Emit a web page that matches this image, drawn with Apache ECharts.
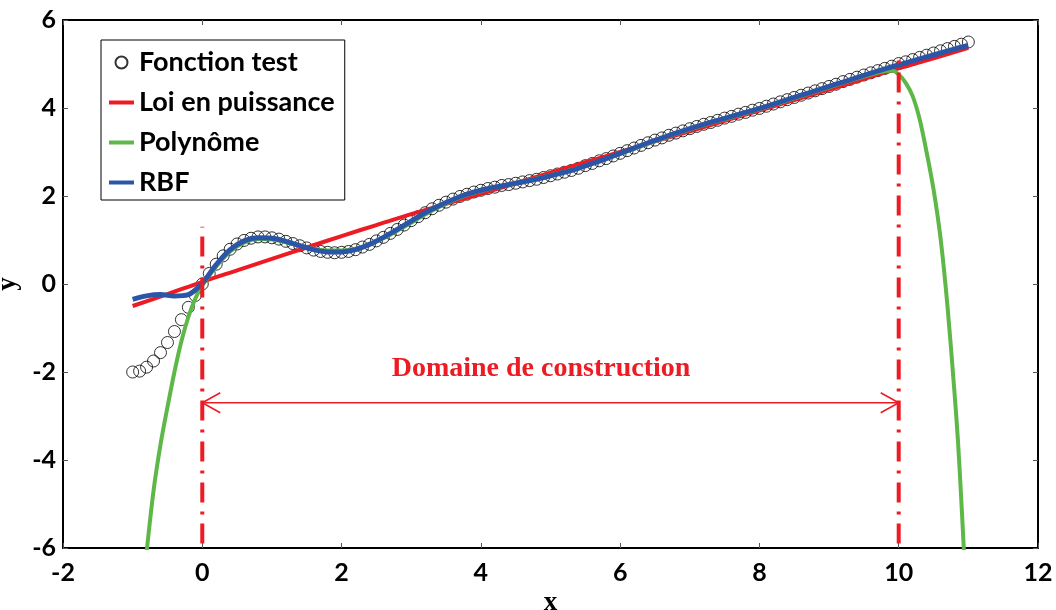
<!DOCTYPE html>
<html lang="fr">
<head>
  <meta charset="UTF-8">
  <title>Domaine de construction</title>
  <style type="text/css">
    html, body { margin: 0; padding: 0; background: #fff; }
    #chart { width: 1056px; height: 610px; }
  </style>
</head>
<body>
  <div id="chart"></div>
  <script src="https://cdn.jsdelivr.net/npm/echarts@6/dist/echarts.min.js"></script>
  <script>
    // sampling grid of the test function (step 0.1 from -1 to 11)
    const testX = Array.from({ length: 121 }, (_, i) => +(-1 + i * 0.1).toFixed(1))
    const testY = [
      -2.00, -1.98, -1.89, -1.75, -1.56, -1.33, -1.08, -0.81, -0.53, -0.26,
      0.00, 0.24, 0.45, 0.64, 0.79, 0.91, 0.99, 1.04, 1.07, 1.07,
      1.05, 1.02, 0.97, 0.92, 0.87, 0.82, 0.77, 0.74, 0.72, 0.71,
      0.72, 0.74, 0.78, 0.84, 0.90, 0.98, 1.06, 1.15, 1.24, 1.34,
      1.44, 1.53, 1.62, 1.71, 1.79, 1.86, 1.93, 1.99, 2.04, 2.09,
      2.13, 2.17, 2.20, 2.24, 2.26, 2.29, 2.32, 2.35, 2.38, 2.42,
      2.46, 2.50, 2.54, 2.58, 2.63, 2.69, 2.74, 2.80, 2.85, 2.91,
      2.97, 3.03, 3.09, 3.15, 3.21, 3.27, 3.32, 3.38, 3.43, 3.48,
      3.53, 3.58, 3.63, 3.67, 3.72, 3.77, 3.81, 3.86, 3.90, 3.95,
      3.99, 4.04, 4.09, 4.14, 4.19, 4.24, 4.29, 4.34, 4.39, 4.44,
      4.49, 4.54, 4.60, 4.65, 4.70, 4.75, 4.80, 4.85, 4.90, 4.95,
      5.01, 5.05, 5.10, 5.15, 5.20, 5.25, 5.30, 5.35, 5.40, 5.45, 5.50
    ]

    // loi en puissance, read every 0.5
    const powerX = [-1, -0.5, 0, 0.5, 1, 1.5, 2, 2.5, 3, 3.5, 4, 4.5, 5, 5.5, 6, 6.5, 7, 7.5, 8, 8.5, 9, 9.5, 10, 10.5, 11]
    const powerY = [-0.50, -0.23, 0.05, 0.31, 0.57, 0.83, 1.09, 1.34, 1.59, 1.82, 2.05, 2.29, 2.53, 2.77, 3.00, 3.24, 3.47, 3.71, 3.94, 4.18, 4.42, 4.66, 4.90, 5.13, 5.37]

    // polynome
    const polyX = [
      -0.8, -0.7, -0.6, -0.5, -0.4, -0.3, -0.2, -0.1,
      0, 0.2, 0.4, 0.6, 0.8, 1.0, 1.2, 1.4, 1.6, 1.8,
      2.0, 2.2, 2.4, 2.6, 2.8, 3.0, 3.2, 3.4, 3.6, 3.8,
      4.0, 4.2, 4.4, 4.6, 4.8, 5.0, 5.2, 5.4, 5.6, 5.8,
      6.0, 6.2, 6.4, 6.6, 6.8, 7.0, 7.2, 7.4, 7.6, 7.8,
      8.0, 8.2, 8.4, 8.6, 8.8, 9.0, 9.2, 9.4, 9.6, 9.8,
      9.9, 10.0, 10.1, 10.2, 10.3, 10.4, 10.5, 10.6, 10.7, 10.8, 10.85, 10.9, 10.95
    ]
    const polyY = [
      -6.1, -4.7, -3.65, -2.8, -2.0, -1.3, -0.75, -0.33,
      -0.03, 0.40, 0.74, 0.94, 1.02, 1.01, 0.95, 0.87, 0.80, 0.76,
      0.76, 0.80, 0.90, 1.04, 1.21, 1.39, 1.58, 1.75, 1.90, 2.02,
      2.11, 2.19, 2.26, 2.33, 2.40, 2.47, 2.55, 2.64, 2.74, 2.85,
      2.96, 3.07, 3.19, 3.30, 3.41, 3.51, 3.61, 3.70, 3.79, 3.88,
      3.97, 4.07, 4.17, 4.27, 4.37, 4.47, 4.57, 4.67, 4.76, 4.84,
      4.85, 4.76, 4.57, 4.27, 3.75, 3.0, 2.15, 1.05, -0.5, -2.45, -3.55, -4.95, -6.5
    ]

    // RBF, read every 0.2 from -1 to 11
    const rbfX = Array.from({ length: 61 }, (_, i) => +(-1 + i * 0.2).toFixed(1))
    const rbfY = [
      -0.35, -0.27, -0.24, -0.27, -0.24,
      0.02, 0.44, 0.78, 0.98, 1.05, 1.04, 0.97, 0.87, 0.78, 0.73,
      0.73, 0.78, 0.90, 1.06, 1.24, 1.43, 1.62, 1.78, 1.92, 2.04,
      2.13, 2.20, 2.26, 2.32, 2.38, 2.46, 2.54, 2.63, 2.74, 2.85,
      2.97, 3.09, 3.21, 3.32, 3.43, 3.53, 3.63, 3.72, 3.81, 3.90,
      3.99, 4.09, 4.19, 4.29, 4.39, 4.49, 4.59, 4.69, 4.79, 4.89,
      4.98, 5.07, 5.16, 5.25, 5.34, 5.42
    ]

    // construction domain bounds
    const domainX = [0, 10]
    const domainTop = [1.3, 5.25]
    const domainBottom = -5.9
    const arrowY = -2.7

    const RED = '#ed1c24'
    const GREEN = '#5db848'
    const BLUE = '#2b56a8'
    const zip = (xs, ys) => xs.map((x, i) => [x, ys[i]])

    const tickFont = { fontFamily: 'Lato', fontWeight: 'bold', fontSize: 25, color: '#000' }
    const nameFont = { fontFamily: 'Liberation Serif', fontWeight: 'bold', fontSize: 27, color: '#000' }

    function axis (extra) {
      return Object.assign({
        type: 'value',
        interval: 2,
        splitLine: { show: false },
        axisLine: { show: true, onZero: false, lineStyle: { color: '#000', width: 2 } },
        axisTick: { show: true, inside: true, length: 5, lineStyle: { color: '#555', width: 1 } }
      }, extra)
    }

    // line entries in the legend: only a thick stroke, no marker
    const lineEntry = name => ({ name, itemStyle: { opacity: 0 }, lineStyle: { width: 4 } })

    const chart = echarts.init(document.getElementById('chart'))

    chart.setOption({
      animation: false,
      backgroundColor: '#fff',
      grid: { left: 63, right: 18, top: 20, bottom: 62, containLabel: false, outerBoundsMode: 'none' },
      legend: {
        data: ['Fonction test', lineEntry('Loi en puissance'), lineEntry('Polynôme'), lineEntry('RBF')],
        orient: 'vertical',
        left: 101,
        top: 40,
        padding: [9, 10, 4, 6],
        itemGap: 13,
        itemWidth: 25,
        itemHeight: 12,
        borderColor: '#000',
        borderWidth: 1,
        borderRadius: 0,
        backgroundColor: '#fff',
        textStyle: { fontFamily: 'Lato', fontWeight: 'bold', fontSize: 27, lineHeight: 27, color: '#000' }
      },
      xAxis: [
        axis({
          min: -2, max: 12, position: 'bottom',
          axisLabel: Object.assign({ margin: 12, showMinLabel: true, showMaxLabel: true }, tickFont),
          name: 'x', nameLocation: 'middle', nameGap: 42, nameTextStyle: nameFont
        }),
        axis({ min: -2, max: 12, position: 'top', axisLabel: { show: false } })
      ],
      yAxis: [
        axis({
          min: -6, max: 6, position: 'left',
          axisLabel: Object.assign({ margin: 7, showMinLabel: true, showMaxLabel: true }, tickFont),
          name: 'y', nameLocation: 'middle', nameGap: 34, nameTextStyle: nameFont
        }),
        axis({ min: -6, max: 6, position: 'right', axisLabel: { show: false } })
      ],
      graphic: [{
        type: 'text',
        x: 541,
        y: 369,
        style: {
          text: 'Domaine de construction',
          font: 'bold 28px "Liberation Serif"',
          fill: RED,
          align: 'center',
          verticalAlign: 'middle'
        }
      }],
      series: [
        {
          name: 'Fonction test',
          type: 'scatter',
          data: zip(testX, testY),
          symbol: 'circle',
          symbolSize: 12,
          itemStyle: { color: 'transparent', borderColor: '#000', borderWidth: 1 },
          z: 2
        },
        {
          name: 'Loi en puissance',
          type: 'line',
          data: zip(powerX, powerY),
          symbol: 'none',
          smooth: 0.3,
          lineStyle: { color: RED, width: 4 },
          itemStyle: { color: RED },
          z: 3
        },
        {
          name: 'Polynôme',
          type: 'line',
          data: zip(polyX, polyY),
          symbol: 'none',
          smooth: 0.3,
          lineStyle: { color: GREEN, width: 4 },
          itemStyle: { color: GREEN },
          z: 4
        },
        {
          name: 'RBF',
          type: 'line',
          data: zip(rbfX, rbfY),
          symbol: 'none',
          smooth: 0.35,
          lineStyle: { color: BLUE, width: 5 },
          itemStyle: { color: BLUE },
          z: 5
        },
        ...domainX.map((x, i) => ({
          name: 'borne' + i,
          type: 'line',
          data: [[x, domainBottom], [x, domainTop[i]]],
          symbol: 'none',
          lineStyle: { color: RED, width: 4, type: [20, 9, 3, 9] },
          z: 6
        })),
        {
          name: 'domaine',
          type: 'custom',
          data: [[domainX[0], domainX[1], arrowY]],
          encode: { x: [0, 1], y: 2 },
          z: 6,
          renderItem: function (params, api) {
            const y = api.value(2)
            const a = api.coord([api.value(0), y])
            const b = api.coord([api.value(1), y])
            const len = 18
            const half = 10
            const style = { stroke: RED, lineWidth: 1.6, fill: null }
            return {
              type: 'group',
              children: [
                { type: 'line', shape: { x1: a[0], y1: a[1], x2: b[0], y2: b[1] }, style: style },
                { type: 'polyline', shape: { points: [[a[0] + len, a[1] - half], a, [a[0] + len, a[1] + half]] }, style: style },
                { type: 'polyline', shape: { points: [[b[0] - len, b[1] - half], b, [b[0] - len, b[1] + half]] }, style: style }
              ]
            }
          }
        }
      ]
    })
  </script>
</body>
</html>
